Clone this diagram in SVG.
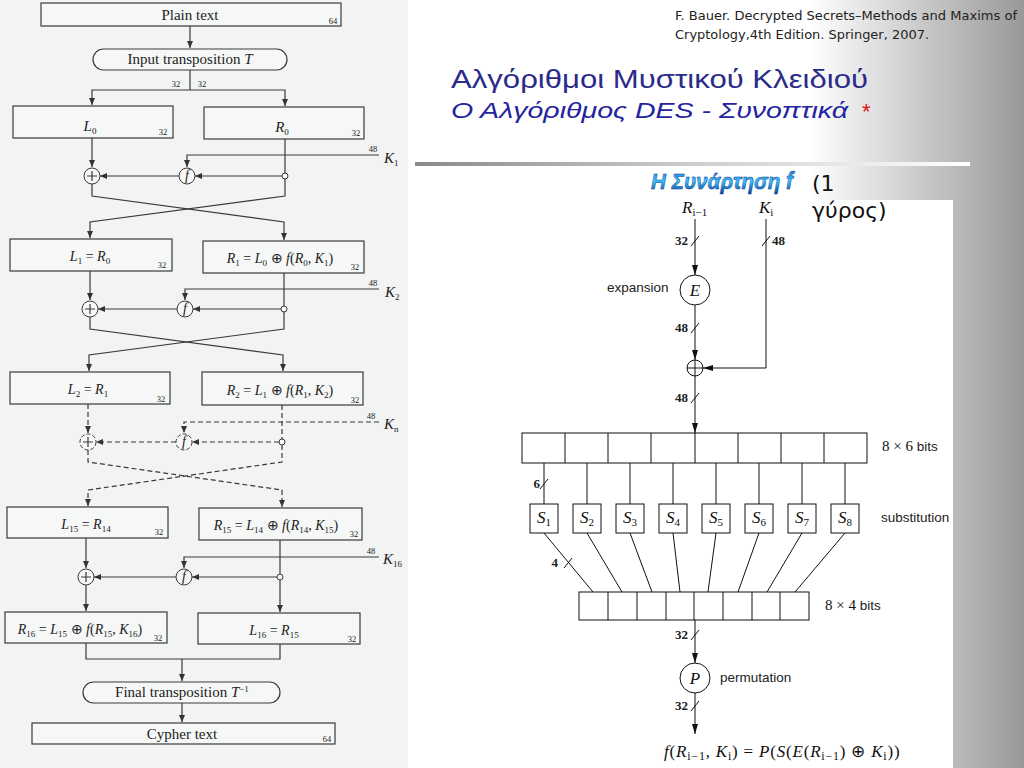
<svg xmlns="http://www.w3.org/2000/svg" width="1024" height="768" viewBox="0 0 1024 768">
<defs>
<linearGradient id="bg" x1="0" y1="0" x2="1024" y2="0" gradientUnits="userSpaceOnUse">
<stop offset="0.79" stop-color="#ffffff"/>
<stop offset="1" stop-color="#999999"/>
</linearGradient>
<linearGradient id="bar" x1="415" y1="0" x2="970" y2="0" gradientUnits="userSpaceOnUse">
<stop offset="0" stop-color="#8a8a8a"/>
<stop offset="0.5" stop-color="#cdcdcd"/>
<stop offset="1" stop-color="#ffffff"/>
</linearGradient>
<linearGradient id="wa" x1="0" y1="0" x2="0" y2="1">
<stop offset="0" stop-color="#1f6fd6"/>
<stop offset="0.5" stop-color="#3fc3ff"/>
<stop offset="1" stop-color="#0b3f9a"/>
</linearGradient>
<marker id="aL" markerWidth="8" markerHeight="6" refX="7" refY="3" orient="auto" markerUnits="userSpaceOnUse"><path d="M0,0 L7,3 L0,6 z" fill="#333"/></marker>
<marker id="aR" markerWidth="10" markerHeight="6" refX="10" refY="3" orient="auto" markerUnits="userSpaceOnUse"><path d="M0,0 L10,3 L0,6 z" fill="#111"/></marker>
<style>
.ln{fill:none;stroke:#3a3a3a;stroke-width:1.2}
.dl{fill:none;stroke:#3a3a3a;stroke-width:1.2;stroke-dasharray:5,3}
.ar{marker-end:url(#aL)}
.bx{fill:#f6f8f7;stroke:#3a3a3a;stroke-width:1.2}
.jn{fill:#f6f8f7;stroke:#3a3a3a;stroke-width:1}
.t{font-family:"Liberation Serif",serif;font-size:14px;fill:#222}
.big{font-size:15px}
.i{font-style:italic}
.sb{font-size:9px}
.n{font-family:"Liberation Serif",serif;font-size:8.5px;fill:#222222}
.rl{fill:none;stroke:#111;stroke-width:1}
.ra{marker-end:url(#aR)}
.rb{fill:#fff;stroke:#111;stroke-width:1}
.cm{font-family:"Liberation Serif",serif;font-size:17px;fill:#111}
.rs{font-size:11px}
.bd{font-family:"Liberation Serif",serif;font-weight:bold;font-size:13px;fill:#222}
.ss{font-family:"Liberation Sans",Arial,sans-serif;font-size:13.5px;fill:#222}
.lab{font-family:"Liberation Serif",serif;font-size:15px;fill:#111}
</style>
</defs>

<rect x="0" y="0" width="1024" height="768" fill="url(#bg)"/>
<rect x="0" y="0" width="408" height="768" fill="#f1f4f3"/>

<!-- Header -->
<g id="citation" font-family="'DejaVu Sans',Verdana,sans-serif" font-size="11.5" fill="#222">
<text x="675" y="20" textLength="342" lengthAdjust="spacingAndGlyphs">F. Bauer. Decrypted Secrets–Methods and Maxims of</text>
<text x="675" y="39" textLength="254" lengthAdjust="spacingAndGlyphs">Cryptology,4th Edition. Springer, 2007.</text>
</g>
<g id="title" font-family="'Liberation Sans',Arial,sans-serif">
<text x="451" y="88" font-size="26" fill="#2b2b8a" textLength="417" lengthAdjust="spacingAndGlyphs">Αλγόριθμοι Μυστικού Κλειδιού</text>
<text x="451" y="118" font-size="22" font-style="italic" fill="#2424a0" textLength="397" lengthAdjust="spacingAndGlyphs">Ο Αλγόριθμος DES - Συνοπτικά</text>
<text x="862" y="119" font-size="22" fill="#e01010">*</text>
</g>
<rect x="415" y="162" width="555" height="4" fill="url(#bar)"/>

<!-- Right panel -->
<rect x="515" y="200" width="438" height="568" fill="#ffffff"/>

<g id="subtitle">
<text x="651" y="189" font-family="'Liberation Sans',Arial,sans-serif" font-size="23" font-weight="bold" font-style="italic" fill="url(#wa)" stroke="#0a3c8c" stroke-width="0.5" textLength="142" lengthAdjust="spacingAndGlyphs">Η Συνάρτηση f</text>
<text x="812" y="191" font-family="'DejaVu Sans',Verdana,sans-serif" font-size="22" fill="#111">(1</text>
<text x="812" y="218" font-family="'DejaVu Sans',Verdana,sans-serif" font-size="22" fill="#111">γύρος)</text>
</g>

<!-- Left diagram: nodes -->
<g id="plain"><rect class="bx" x="41" y="3" width="300" height="23"/><text class="t big" x="190" y="20" text-anchor="middle">Plain text</text><text class="n" x="333" y="24" text-anchor="middle">64</text></g>
<g id="inputT"><rect class="bx" x="93" y="49" width="194" height="21" rx="10.5"/><text class="t big" x="190" y="64" text-anchor="middle">Input transposition <tspan class="i">T</tspan></text></g>

<g id="L0"><rect class="bx" x="13" y="106" width="160" height="32"/><text class="t big" x="90" y="131" text-anchor="middle"><tspan class="i">L</tspan><tspan class="sb" dy="3">0</tspan></text><text class="n" x="163" y="135" text-anchor="middle">32</text></g>
<g id="R0"><rect class="bx" x="204" y="107" width="160" height="32"/><text class="t big" x="282" y="132" text-anchor="middle"><tspan class="i">R</tspan><tspan class="sb" dy="3">0</tspan></text><text class="n" x="356" y="136" text-anchor="middle">32</text></g>

<g id="xor1"><circle class="jn" cx="92" cy="176" r="8"/><path class="ln" d="M92,171 V181 M87,176 H97"/></g>
<g id="f1"><circle class="jn" cx="187" cy="176" r="8"/><text class="t i" x="187" y="180" text-anchor="middle" font-size="12">f</text></g>
<g id="k1"><text class="n" x="373" y="152" text-anchor="middle">48</text><text class="t big" x="384" y="163"><tspan class="i">K</tspan><tspan class="sb" dy="3">1</tspan></text></g>

<g id="L1"><rect class="bx" x="10" y="239" width="162" height="32"/><text class="t" x="90" y="261" text-anchor="middle"><tspan class="i">L</tspan><tspan class="sb" dy="3">1</tspan><tspan dy="-3"> = </tspan><tspan class="i">R</tspan><tspan class="sb" dy="3">0</tspan></text><text class="n" x="162" y="268" text-anchor="middle">32</text></g>
<g id="R1"><rect class="bx" x="203" y="241" width="161" height="32"/><text class="t" x="280" y="263" text-anchor="middle"><tspan class="i">R</tspan><tspan class="sb" dy="3">1</tspan><tspan dy="-3"> = </tspan><tspan class="i">L</tspan><tspan class="sb" dy="3">0</tspan><tspan dy="-3"> ⊕ </tspan><tspan class="i">f</tspan>(<tspan class="i">R</tspan><tspan class="sb" dy="3">0</tspan><tspan dy="-3">, </tspan><tspan class="i">K</tspan><tspan class="sb" dy="3">1</tspan><tspan dy="-3">)</tspan></text><text class="n" x="355" y="270" text-anchor="middle">32</text></g>

<g id="xor2"><circle class="jn" cx="90" cy="309" r="8"/><path class="ln" d="M90,304 V314 M85,309 H95"/></g>
<g id="f2"><circle class="jn" cx="185" cy="309" r="8"/><text class="t i" x="185" y="313" text-anchor="middle" font-size="12">f</text></g>
<g id="k2"><text class="n" x="373" y="286" text-anchor="middle">48</text><text class="t big" x="385" y="297"><tspan class="i">K</tspan><tspan class="sb" dy="3">2</tspan></text></g>

<g id="L2"><rect class="bx" x="10" y="372" width="160" height="32"/><text class="t" x="88" y="394" text-anchor="middle"><tspan class="i">L</tspan><tspan class="sb" dy="3">2</tspan><tspan dy="-3"> = </tspan><tspan class="i">R</tspan><tspan class="sb" dy="3">1</tspan></text><text class="n" x="161" y="402" text-anchor="middle">32</text></g>
<g id="R2"><rect class="bx" x="202" y="372" width="161" height="33"/><text class="t" x="280" y="395" text-anchor="middle"><tspan class="i">R</tspan><tspan class="sb" dy="3">2</tspan><tspan dy="-3"> = </tspan><tspan class="i">L</tspan><tspan class="sb" dy="3">1</tspan><tspan dy="-3"> ⊕ </tspan><tspan class="i">f</tspan>(<tspan class="i">R</tspan><tspan class="sb" dy="3">1</tspan><tspan dy="-3">, </tspan><tspan class="i">K</tspan><tspan class="sb" dy="3">2</tspan><tspan dy="-3">)</tspan></text><text class="n" x="355" y="403" text-anchor="middle">32</text></g>

<g id="xorn"><circle class="jn" cx="88" cy="442" r="8" stroke-dasharray="4,2"/><path class="ln" d="M88,437 V447 M83,442 H93"/></g>
<g id="fn"><circle class="jn" cx="184" cy="442" r="8" stroke-dasharray="4,2"/><text class="t i" x="184" y="446" text-anchor="middle" font-size="12">f</text></g>
<g id="kn"><text class="n" x="371" y="419" text-anchor="middle">48</text><text class="t big" x="384" y="429"><tspan class="i">K</tspan><tspan class="sb" dy="3">n</tspan></text></g>

<g id="L15"><rect class="bx" x="7" y="507" width="161" height="31"/><text class="t" x="86" y="529" text-anchor="middle"><tspan class="i">L</tspan><tspan class="sb" dy="3">15</tspan><tspan dy="-3"> = </tspan><tspan class="i">R</tspan><tspan class="sb" dy="3">14</tspan></text><text class="n" x="159" y="535" text-anchor="middle">32</text></g>
<g id="R15"><rect class="bx" x="199" y="508" width="163" height="32"/><text class="t" x="276" y="530" text-anchor="middle"><tspan class="i">R</tspan><tspan class="sb" dy="3">15</tspan><tspan dy="-3"> = </tspan><tspan class="i">L</tspan><tspan class="sb" dy="3">14</tspan><tspan dy="-3"> ⊕ </tspan><tspan class="i">f</tspan>(<tspan class="i">R</tspan><tspan class="sb" dy="3">14</tspan><tspan dy="-3">, </tspan><tspan class="i">K</tspan><tspan class="sb" dy="3">15</tspan><tspan dy="-3">)</tspan></text><text class="n" x="354" y="537" text-anchor="middle">32</text></g>

<g id="xor16"><circle class="jn" cx="86" cy="577" r="8"/><path class="ln" d="M86,572 V582 M81,577 H91"/></g>
<g id="f16"><circle class="jn" cx="184" cy="577" r="8"/><text class="t i" x="184" y="581" text-anchor="middle" font-size="12">f</text></g>
<g id="k16"><text class="n" x="371" y="554" text-anchor="middle">48</text><text class="t big" x="383" y="564"><tspan class="i">K</tspan><tspan class="sb" dy="3">16</tspan></text></g>

<g id="R16"><rect class="bx" x="5" y="612" width="162" height="31"/><text class="t" x="80" y="634" text-anchor="middle"><tspan class="i">R</tspan><tspan class="sb" dy="3">16</tspan><tspan dy="-3"> = </tspan><tspan class="i">L</tspan><tspan class="sb" dy="3">15</tspan><tspan dy="-3"> ⊕ </tspan><tspan class="i">f</tspan>(<tspan class="i">R</tspan><tspan class="sb" dy="3">15</tspan><tspan dy="-3">, </tspan><tspan class="i">K</tspan><tspan class="sb" dy="3">16</tspan><tspan dy="-3">)</tspan></text><text class="n" x="158" y="641" text-anchor="middle">32</text></g>
<g id="L16"><rect class="bx" x="198" y="613" width="162" height="31"/><text class="t" x="274" y="635" text-anchor="middle"><tspan class="i">L</tspan><tspan class="sb" dy="3">16</tspan><tspan dy="-3"> = </tspan><tspan class="i">R</tspan><tspan class="sb" dy="3">15</tspan></text><text class="n" x="352" y="642" text-anchor="middle">32</text></g>

<g id="finalT"><rect class="bx" x="83" y="682" width="197" height="21" rx="10.5"/><text class="t big" x="182" y="697" text-anchor="middle">Final transposition <tspan class="i">T</tspan><tspan font-size="9" dy="-5">−1</tspan></text></g>
<g id="cypher"><rect class="bx" x="32" y="723" width="303" height="21"/><text class="t big" x="182" y="739" text-anchor="middle">Cypher text</text><text class="n" x="327" y="742" text-anchor="middle">64</text></g>

<!-- Left diagram: connectors -->
<g id="connectors-left">
<path class="ln ar" d="M190,26 V48"/>
<path class="ln" d="M190,70 V90"/>
<path class="ln ar" d="M190,90 H92 V105"/>
<path class="ln ar" d="M190,90 H285 V106"/>
<text class="n" x="176" y="87" text-anchor="middle">32</text>
<text class="n" x="202" y="87" text-anchor="middle">32</text>
<path class="ln ar" d="M92,138 V167"/>
<path class="ln" d="M285,139 V173"/>
<path class="ln ar" d="M379,155 H187 V167"/>
<path class="ln ar" d="M282,176 H195"/>
<path class="ln ar" d="M179,176 H100"/>
<path class="ln ar" d="M92,184 V196 L284,222 V240"/>
<path class="ln ar" d="M285,179 V196 L90,222 V238"/>
<circle class="jn" cx="285" cy="176" r="3"/>
<path class="ln ar" d="M90,271 V300"/>
<path class="ln" d="M284,273 V306"/>
<path class="ln ar" d="M379,289 H185 V300"/>
<path class="ln ar" d="M281,309 H193"/>
<path class="ln ar" d="M177,309 H98"/>
<path class="ln ar" d="M90,317 V329 L283,355 V371"/>
<path class="ln ar" d="M284,312 V329 L89,355 V371"/>
<circle class="jn" cx="284" cy="309" r="3"/>
<path class="dl ar" d="M88,404 V433"/>
<path class="dl" d="M282,405 V439"/>
<path class="dl ar" d="M379,422 H184 V433"/>
<path class="dl ar" d="M279,442 H192"/>
<path class="dl ar" d="M176,442 H96"/>
<path class="dl ar" d="M88,450 V462 L282,490 V507"/>
<path class="dl ar" d="M282,445 V462 L88,490 V506"/>
<circle class="jn" cx="282" cy="442" r="3"/>
<path class="ln ar" d="M86,538 V568"/>
<path class="ln" d="M280,540 V574"/>
<path class="ln ar" d="M379,557 H184 V568"/>
<path class="ln ar" d="M277,577 H192"/>
<path class="ln ar" d="M176,577 H94"/>
<path class="ln ar" d="M86,585 V611"/>
<path class="ln ar" d="M280,580 V612"/>
<circle class="jn" cx="280" cy="577" r="3"/>
<path class="ln" d="M86,643 V659 H280 V644"/>
<path class="ln ar" d="M182,659 V681"/>
<path class="ln ar" d="M182,703 V722"/>
</g>

<!-- Right diagram: nodes -->
<g id="in-R"><text class="cm i" x="682" y="213"><tspan>R</tspan><tspan class="rs" dy="3" font-style="normal">i−1</tspan></text></g>
<g id="in-K"><text class="cm i" x="759" y="213"><tspan>K</tspan><tspan class="rs" dy="3" font-style="normal">i</tspan></text></g>
<g id="E"><circle class="rb" cx="695" cy="290" r="15"/><text class="cm i" x="695" y="296" text-anchor="middle">E</text><text class="ss" x="607" y="292">expansion</text></g>
<g id="xorR"><circle class="rb" cx="695" cy="368" r="8"/><path class="rl" d="M695,360 V376 M687,368 H703"/></g>
<g id="row6">
<rect class="rb" x="522" y="433" width="345" height="30"/>
<path class="rl" d="M565,433 V463 M608,433 V463 M651,433 V463 M695,433 V463 M738,433 V463 M781,433 V463 M824,433 V463"/>
<text x="882" y="451"><tspan class="lab">8 × 6 </tspan><tspan class="ss">bits</tspan></text>
</g>
<g id="S1"><rect class="rb" x="530" y="504" width="28" height="29"/><text class="cm" x="544" y="523" text-anchor="middle"><tspan class="i">S</tspan><tspan class="rs" dy="3">1</tspan></text></g>
<g id="S2"><rect class="rb" x="573" y="504" width="28" height="29"/><text class="cm" x="587" y="523" text-anchor="middle"><tspan class="i">S</tspan><tspan class="rs" dy="3">2</tspan></text></g>
<g id="S3"><rect class="rb" x="616" y="504" width="28" height="29"/><text class="cm" x="630" y="523" text-anchor="middle"><tspan class="i">S</tspan><tspan class="rs" dy="3">3</tspan></text></g>
<g id="S4"><rect class="rb" x="659" y="504" width="28" height="29"/><text class="cm" x="673" y="523" text-anchor="middle"><tspan class="i">S</tspan><tspan class="rs" dy="3">4</tspan></text></g>
<g id="S5"><rect class="rb" x="702" y="504" width="28" height="29"/><text class="cm" x="716" y="523" text-anchor="middle"><tspan class="i">S</tspan><tspan class="rs" dy="3">5</tspan></text></g>
<g id="S6"><rect class="rb" x="745" y="504" width="28" height="29"/><text class="cm" x="759" y="523" text-anchor="middle"><tspan class="i">S</tspan><tspan class="rs" dy="3">6</tspan></text></g>
<g id="S7"><rect class="rb" x="788" y="504" width="28" height="29"/><text class="cm" x="802" y="523" text-anchor="middle"><tspan class="i">S</tspan><tspan class="rs" dy="3">7</tspan></text></g>
<g id="S8"><rect class="rb" x="831" y="504" width="28" height="29"/><text class="cm" x="845" y="523" text-anchor="middle"><tspan class="i">S</tspan><tspan class="rs" dy="3">8</tspan></text></g>
<text class="ss" x="881" y="522">substitution</text>
<g id="row4">
<rect class="rb" x="579" y="592" width="230" height="28"/>
<path class="rl" d="M608,592 V620 M637,592 V620 M666,592 V620 M694,592 V620 M723,592 V620 M752,592 V620 M780,592 V620"/>
<text x="825" y="610"><tspan class="lab">8 × 4 </tspan><tspan class="ss">bits</tspan></text>
</g>
<g id="P"><circle class="rb" cx="695" cy="678" r="15"/><text class="cm i" x="695" y="684" text-anchor="middle">P</text><text class="ss" x="720" y="682">permutation</text></g>
<g id="formula"><text class="cm" x="664" y="757" font-size="19.5" letter-spacing="0.8"><tspan class="i">f</tspan>(<tspan class="i">R</tspan><tspan font-size="12" dy="3">i−1</tspan><tspan dy="-3">, </tspan><tspan class="i">K</tspan><tspan font-size="12" dy="3">i</tspan><tspan dy="-3">) = </tspan><tspan class="i">P</tspan>(<tspan class="i">S</tspan>(<tspan class="i">E</tspan>(<tspan class="i">R</tspan><tspan font-size="12" dy="3">i−1</tspan><tspan dy="-3">) ⊕ </tspan><tspan class="i">K</tspan><tspan font-size="12" dy="3">i</tspan><tspan dy="-3">))</tspan></text></g>

<!-- Right diagram: connectors -->
<g id="connectors-right">
<path class="rl ra" d="M695,219 V275"/>
<path class="rl ra" d="M695,305 V360"/>
<path class="rl ra" d="M766,219 V368 H703"/>
<path class="rl ra" d="M695,376 V433"/>
<path class="rl" d="M544,463 V504 M587,463 V504 M630,463 V504 M673,463 V504 M716,463 V504 M759,463 V504 M802,463 V504 M845,463 V504"/>
<path class="rl" d="M544,533 L593,592 M587,533 L622,592 M630,533 L652,592 M673,533 L680,592 M716,533 L708,592 M759,533 L738,592 M802,533 L767,592 M845,533 L795,592"/>
<path class="rl ra" d="M695,620 V663"/>
<path class="rl ra" d="M695,693 V734"/>
<path class="rl" d="M691,246 L699,236 M762,246 L770,236 M691,333 L699,323 M691,403 L699,393 M540,489 L548,479 M564,568 L572,558 M691,640 L699,630 M691,711 L699,701"/>
<text class="bd" x="688" y="245" text-anchor="end">32</text>
<text class="bd" x="772" y="245">48</text>
<text class="bd" x="688" y="332" text-anchor="end">48</text>
<text class="bd" x="688" y="402" text-anchor="end">48</text>
<text class="bd" x="540" y="488" text-anchor="end">6</text>
<text class="bd" x="558" y="567" text-anchor="end">4</text>
<text class="bd" x="688" y="639" text-anchor="end">32</text>
<text class="bd" x="688" y="710" text-anchor="end">32</text>
</g>
</svg>
